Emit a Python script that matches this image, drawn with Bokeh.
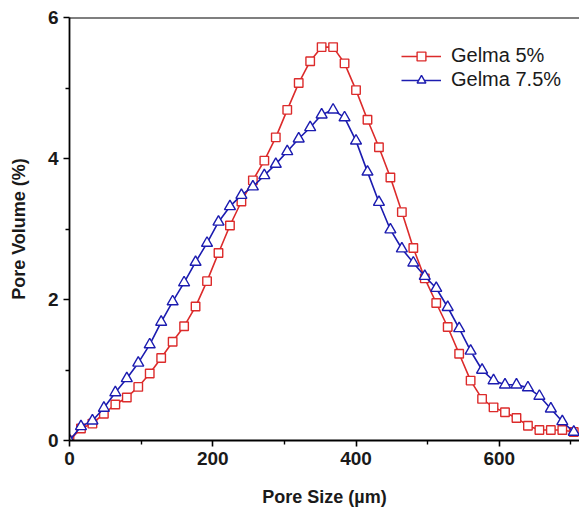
from bokeh.plotting import figure
from bokeh.models import FixedTicker, Span, Legend, LegendItem, Range1d
from bokeh.embed import file_html
from bokeh.resources import INLINE

pore_size = [16 * i for i in range(45)]
gelma_5 = [0.0, 0.17, 0.24, 0.38, 0.51, 0.61, 0.76, 0.95, 1.17, 1.40, 1.62, 1.90, 2.26,
           2.66, 3.05, 3.39, 3.69, 3.97, 4.30, 4.69, 5.07, 5.38, 5.58, 5.58, 5.35, 4.97,
           4.55, 4.16, 3.73, 3.24, 2.73, 2.30, 1.95, 1.61, 1.23, 0.85, 0.59, 0.47, 0.40,
           0.32, 0.21, 0.15, 0.15, 0.15, 0.12]
gelma_75 = [0.0, 0.20, 0.28, 0.46, 0.68, 0.88, 1.10, 1.36, 1.68, 1.97, 2.24, 2.53, 2.80,
            3.10, 3.32, 3.48, 3.60, 3.76, 3.92, 4.10, 4.28, 4.44, 4.62, 4.69, 4.58, 4.25,
            3.81, 3.38, 2.99, 2.72, 2.52, 2.33, 2.16, 1.89, 1.59, 1.27, 1.00, 0.85, 0.79,
            0.79, 0.75, 0.63, 0.45, 0.27, 0.12]
series_names = ["Gelma 5%", "Gelma 7.5%"]
x_major = [0, 200, 400, 600]
x_minor = [100, 300, 500, 700]
y_major = [0, 2, 4, 6]
y_minor = [1, 3, 5]

RED = "#dc2b2b"
BLUE = "#1c1cb0"
FONT = "Liberation Sans"

p = figure(width=579, height=514, output_backend="svg", toolbar_location=None,
           x_range=Range1d(0, 712), y_range=Range1d(0, 6),
           min_border_left=69, min_border_right=0, min_border_top=17, min_border_bottom=74)
p.outline_line_color = None
p.grid.visible = False
p.background_fill_color = "white"

l1 = p.line(pore_size, gelma_5, line_color=RED, line_width=1.6)
s1 = p.scatter(pore_size, gelma_5, marker="square", size=8.5, line_color=RED, line_width=1.4,
               fill_color="white")
l2 = p.line(pore_size, gelma_75, line_color=BLUE, line_width=1.6)
s2 = p.scatter(pore_size, gelma_75, marker="triangle", size=11, line_color=BLUE, line_width=1.4,
               fill_color="white")

p.add_layout(Span(location=6, dimension="width", line_color="black", line_width=1.8))

for ax in (p.xaxis[0], p.yaxis[0]):
    ax.axis_line_width = 1.8
    ax.axis_line_color = "black"
    ax.major_tick_line_width = 1.6
    ax.minor_tick_line_width = 1.4
    ax.major_tick_out = 6
    ax.major_tick_in = 0
    ax.minor_tick_out = 4
    ax.minor_tick_in = 0
    ax.major_label_text_font = FONT
    ax.major_label_text_font_style = "bold"
    ax.major_label_text_font_size = "19px"
    ax.major_label_text_color = "#1a1a1a"
    ax.axis_label_text_font = FONT
    ax.axis_label_text_font_style = "bold"
    ax.axis_label_text_font_size = "18px"
    ax.axis_label_text_color = "#1a1a1a"

p.xaxis[0].ticker = FixedTicker(ticks=x_major, minor_ticks=x_minor)
p.yaxis[0].ticker = FixedTicker(ticks=y_major, minor_ticks=y_minor)
p.xaxis[0].axis_label = "Pore Size (µm)"
p.yaxis[0].axis_label = "Pore Volume (%)"
p.xaxis[0].major_label_standoff = 5
p.xaxis[0].axis_label_standoff = 19
p.yaxis[0].major_label_standoff = 5
p.yaxis[0].axis_label_standoff = 16

legend = Legend(items=[LegendItem(label=series_names[0], renderers=[l1, s1]),
                       LegendItem(label=series_names[1], renderers=[l2, s2])],
                location=(332, 349), padding=0, margin=0, spacing=1,
                glyph_width=40, glyph_height=22, label_standoff=10,
                label_text_font=FONT, label_text_font_size="20px", label_text_color="#1a1a1a",
                border_line_color=None, background_fill_alpha=0)
p.add_layout(legend)

open("out.html", "w").write(file_html(p, INLINE))
